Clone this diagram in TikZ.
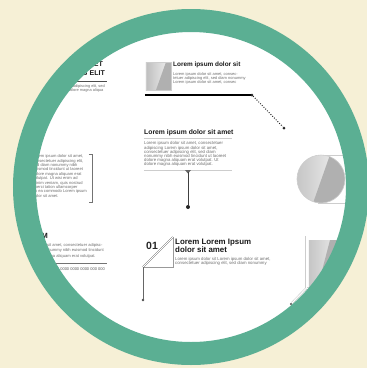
\documentclass[tikz,border=0pt]{standalone}
\usepackage{fontspec}
\setmainfont{Liberation Sans}
\definecolor{paper}{HTML}{F6F0D6}
\definecolor{ringgreen}{HTML}{5BAF93}
\definecolor{inkgray}{HTML}{6E6E6E}
\definecolor{linegray}{HTML}{CDCDCD}

\begin{document}
\begin{tikzpicture}[x=1pt, y=-1pt,
    body/.style={inner sep=0pt, align=left, text=inkgray, font=\fontsize{4}{4.3}\selectfont},
    head/.style={inner sep=0pt, align=left, text=black!90, font=\fontsize{6.4}{7}\selectfont\bfseries},
    dot/.style={circle, fill=black!85, inner sep=0pt, minimum size=3pt}]
  \useasboundingbox (0,0) rectangle (367,368);
  \fill[paper] (0,0) rectangle (367,368);
  \coordinate (c) at (191,187);
  \fill[white] (c) circle[radius=157pt];
  \begin{scope}
    \clip (c) circle[radius=157pt];

    % top left
    \node[head, anchor=north east, font=\fontsize{7}{9.5}\selectfont\bfseries] (tlhead) at (105,61) {LOREM IPSUM DOLOR SIT AMET\\CONSECTETUR ADIPISCING ELIT};
    \draw[black!70, line width=0.6pt] (20,81) -- (107,81);
    \node[body, anchor=north east, font=\fontsize{3.9}{4.9}\selectfont] (tlbody) at (105,84) {Lorem ipsum dolor sit amet, consectetuer adipiscing elit, sed\\diam nonummy nibh euismod tincidunt dolore magna aliqua};

    % top centre
    \shade[left color=gray!50, right color=gray!10] (146,62) rectangle (171,90);
    \fill[gray!62] (156,90) -- (166,62) -- (171,62) -- (171,90) -- cycle;
    \draw[linegray, line width=0.5pt] (146,62) rectangle (171,90);
    \node[head, anchor=north west] (tchead) at (173,62) {Lorem ipsum dolor sit};
    \node[body, anchor=north west, font=\fontsize{4}{4}\selectfont] (tcbody) at (173,72) {Lorem ipsum dolor sit amet, consec-\\tetuer adipiscing elit, sed diam nonummy\\Lorem ipsum dolor sit amet, consec};
    \draw[black, line width=1.8pt] (145,95) -- (252,95);
    \node[dot] (tcknot) at (252,95) {};
    \node[dot] (tcdot) at (284,128) {};
    \draw[black!85, line width=1pt, dash pattern=on 0.9pt off 1.6pt] (tcknot) -- (tcdot);

    % middle
    \node[head, anchor=north west, font=\fontsize{6.8}{7}\selectfont\bfseries] (mhead) at (144,129) {Lorem ipsum dolor sit amet};
    \draw[linegray, line width=1pt] (144,138.5) -- (232,138.5);
    \node[body, anchor=north west, font=\fontsize{4.3}{4.2}\selectfont] (mbody) at (144,141.5) {Lorem ipsum dolor sit amet, consectetuer\\adipiscing Lorem ipsum dolor sit amet,\\consectetuer adipiscing elit, sed diam\\nonummy nibh euismod tincidunt ut laoreet\\dolore magna aliquam erat volutpat. Ut\\dolore magna aliquam erat volutpat.};
    \draw[linegray, line width=1.3pt] (144,170.5) -- (232,170.5);
    \fill[black!60] (185,170) -- (191,170) -- (188,173.5) -- cycle;
    \coordinate (mtop) at (188,172);
    \node[dot, minimum size=4pt] (mdot) at (188,207) {};
    \draw[black!75, line width=0.6pt] (mtop) -- (mdot);

    % left
    \node[body, anchor=north east, font=\fontsize{4.1}{4.4}\selectfont] (lbody) at (87,154.5) {Lorem ipsum dolor sit amet,\\consectetuer adipiscing elit,\\sed diam nonummy nibh\\euismod tincidunt ut laoreet\\dolore magna aliquam erat\\volutpat. Ut wisi enim ad\\minim veniam, quis nostrud\\exerci tation ullamcorper\\ex ea commodo Lorem ipsum\\dolor sit amet.};
    \draw[black!55, line width=0.6pt] (89,154) -- (92,154) -- (92,202) -- (89,202);

    % bottom left
    \node[head, anchor=south east, font=\fontsize{7.5}{8}\selectfont\bfseries] (blhead) at (48,239) {IPSUM};
    \node[body, anchor=north east, font=\fontsize{4.1}{5.6}\selectfont] (blbody) at (104,243) {Lorem ipsum dolor sit amet, consectetuer adipisc-\\ing elit, sed diam nonummy nibh euismod tincidunt\\ut laoreet dolore magna aliquam erat volutpat.};
    \draw[black!55, line width=0.5pt] (20,263) -- (107,263);
    \node[body, anchor=north east, text=black!65] (blphone) at (105,268) {+00 0000 0000 0000 000 000};

    % bottom centre
    \node[inner sep=0pt, anchor=south west, text=black!85, font=\fontsize{10.5}{10.5}\selectfont\bfseries] (num) at (146,250) {01};
    \draw[black!60, line width=0.4pt, double=white, double distance=0.9pt] (143,267) -- (173,237);
    \draw[black!40, line width=0.5pt] (173,237) -- (173,267) -- (143,267);
    \node[head, anchor=north west, font=\fontsize{7.9}{7.8}\selectfont\bfseries] (bchead) at (175,239) {Lorem Lorem Ipsum\\dolor sit amet};
    \node[body, anchor=north west, font=\fontsize{4.3}{4.6}\selectfont] (bcbody) at (175,257) {Lorem ipsum dolor sit Lorem ipsum dolor sit amet,\\consectetuer adipiscing elit, sed diam nonummy};
    \coordinate (bctop) at (143,267);
    \node[dot, minimum size=2.6pt, fill=black!70] (bcdot) at (143,300) {};
    \draw[black!60, line width=0.5pt] (bctop) -- (bcdot);

    % right circle
    \draw[linegray, line width=0.9pt] (318,155) -- (367,155) (318,203) -- (367,203);
    \shade[left color=gray!45, right color=gray!8] (321,179) circle[radius=24pt];
    \begin{scope}
      \clip (321,179) circle[radius=24pt];
      \fill[gray!62] (312,206) -- (331,152) -- (350,152) -- (350,206) -- cycle;
    \end{scope}
    \draw[linegray, line width=0.6pt] (321,179) circle[radius=24pt];

    % right box
    \shade[left color=gray!45, right color=gray!8] (309,240) rectangle (345,286);
    \fill[gray!62] (318,286) -- (330,240) -- (345,240) -- (345,286) -- cycle;
    \draw[linegray, line width=0.6pt, double=white, double distance=0.9pt] (306,236) -- (306,288.5) -- (345,288.5);
    \coordinate (rbcorner) at (306,288.5);
    \node[dot, minimum size=2.4pt, fill=black!70] (rbdot) at (291,304) {};
    \draw[linegray, line width=0.6pt, double=white, double distance=0.9pt] (rbcorner) -- (rbdot);
  \end{scope}

  \fill[ringgreen, even odd rule] (c) circle[radius=178pt] (c) circle[radius=155pt];
\end{tikzpicture}
\end{document}
